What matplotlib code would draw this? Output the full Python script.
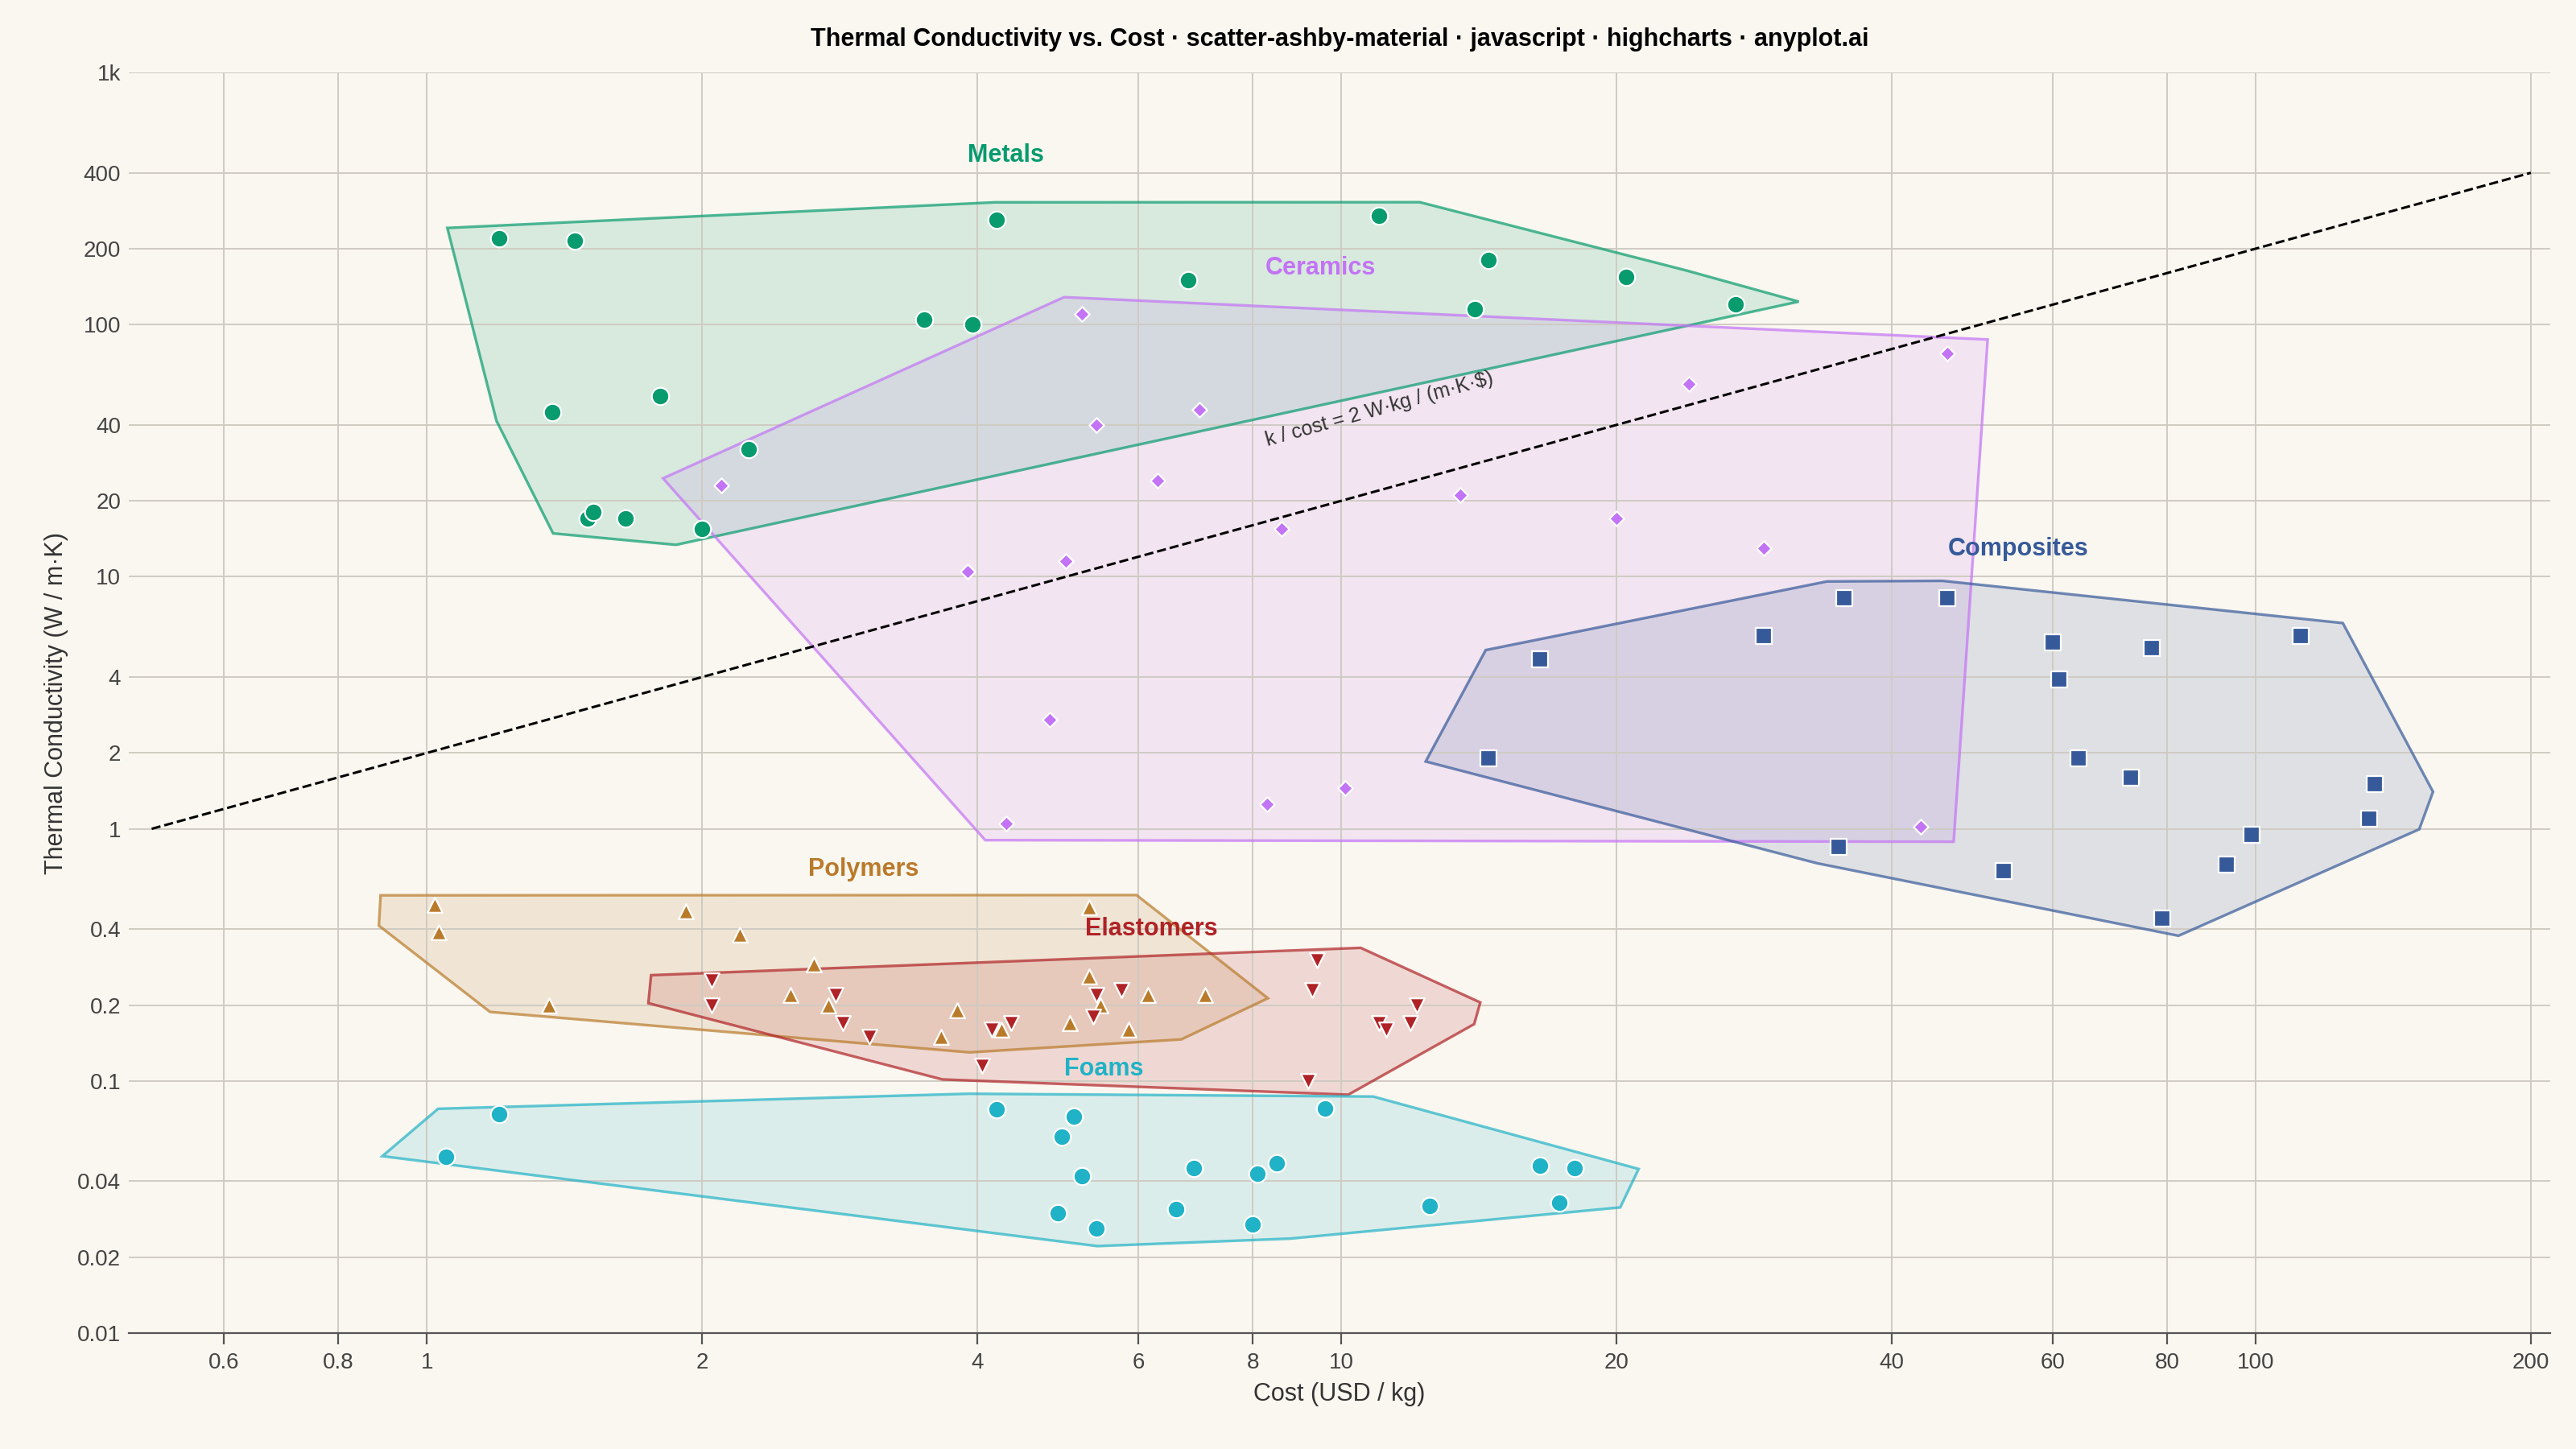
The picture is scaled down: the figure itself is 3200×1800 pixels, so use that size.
import numpy as np
import matplotlib
matplotlib.use("Agg")
import matplotlib.pyplot as plt
from matplotlib.ticker import FixedLocator, FixedFormatter, NullLocator

plt.rcParams['font.family'] = ['Liberation Sans', 'DejaVu Sans']

materials = {
	'Metals': dict(color='#079B6E', marker='o', size=60, label_at=(4.3, 420), pts=[
		(1.2, 220), (1.45, 215), (1.37, 45), (1.8, 52), (1.5, 17), (1.52, 18), (1.65, 17),
		(2.0, 15.5), (2.25, 32), (3.5, 105), (3.95, 100), (4.2, 260), (6.8, 150), (11, 270),
		(14, 115), (14.5, 180), (20.5, 155), (27, 120)]),
	'Ceramics': dict(color='#C373F5', marker='D', size=22, label_at=(9.5, 150), pts=[
		(2.1, 23), (3.9, 10.5), (4.3, 1.05), (4.8, 2.7), (5.0, 11.5), (5.2, 110), (5.4, 40),
		(6.3, 24), (7.0, 46), (8.3, 1.25), (8.6, 15.5), (10.1, 1.45), (13.5, 21), (20, 17),
		(24, 58), (29, 13), (43, 1.02), (46, 77)]),
	'Composites': dict(color='#36599A', marker='s', size=50, label_at=(55, 11.5), pts=[
		(14.5, 1.9), (16.5, 4.7), (29, 5.8), (35, 0.85), (35.5, 8.2), (46, 8.2), (53, 0.68),
		(60, 5.5), (61, 3.9), (64, 1.9), (73, 1.6), (77, 5.2), (79, 0.44), (93, 0.72),
		(99, 0.95), (112, 5.8), (133, 1.1), (135, 1.5)]),
	'Polymers': dict(color='#B97A2A', marker='^', size=45, label_at=(3.0, 0.62), pts=[
		(1.02, 0.5), (1.03, 0.39), (1.36, 0.2), (1.92, 0.47), (2.2, 0.38), (2.5, 0.22),
		(2.65, 0.29), (2.75, 0.2), (3.65, 0.15), (3.8, 0.19), (4.25, 0.16), (5.05, 0.17),
		(5.3, 0.26), (5.3, 0.49), (5.45, 0.2), (5.85, 0.16), (6.15, 0.22), (7.1, 0.22)]),
	'Elastomers': dict(color='#AF2226', marker='v', size=45, label_at=(6.2, 0.36), pts=[
		(2.05, 0.25), (2.05, 0.2), (2.8, 0.22), (2.85, 0.17), (3.05, 0.15), (4.05, 0.115),
		(4.15, 0.16), (4.35, 0.17), (5.35, 0.18), (5.4, 0.22), (5.75, 0.23), (9.2, 0.1),
		(9.3, 0.23), (9.4, 0.3), (11, 0.17), (11.2, 0.16), (11.9, 0.17), (12.1, 0.2)]),
	'Foams': dict(color='#20B2C6', marker='o', size=60, label_at=(5.5, 0.1), pts=[
		(1.05, 0.05), (1.2, 0.074), (4.2, 0.077), (4.95, 0.06), (5.1, 0.072), (4.9, 0.03),
		(5.2, 0.042), (5.4, 0.026), (6.6, 0.031), (6.9, 0.045), (8.0, 0.027), (8.1, 0.043),
		(8.5, 0.047), (9.6, 0.078), (12.5, 0.032), (16.5, 0.046), (17.3, 0.033), (18, 0.045)]),
}

def hull(p):
	p = sorted(set(map(tuple, p)))
	def cross(o, a, b):
		return (a[0]-o[0])*(b[1]-o[1]) - (a[1]-o[1])*(b[0]-o[0])
	lo, up = [], []
	for q in p:
		while len(lo) >= 2 and cross(lo[-2], lo[-1], q) <= 0:
			lo.pop()
		lo.append(q)
	for q in reversed(p):
		while len(up) >= 2 and cross(up[-2], up[-1], q) <= 0:
			up.pop()
		up.append(q)
	return np.array(lo[:-1] + up[:-1])

bg = '#FAF7F0'
fig, ax = plt.subplots(figsize=(16, 9), dpi=200)
fig.patch.set_facecolor(bg)
ax.set_facecolor(bg)
ax.set_xscale('log')
ax.set_yscale('log')

for name, m in materials.items():
	pts = np.log10(np.array(m['pts']))
	h = hull(pts)
	c = h.mean(axis=0)
	d = h - c
	n = np.linalg.norm(d, axis=1, keepdims=True)
	h = h + d / n * 0.07
	ax.fill(10**h[:, 0], 10**h[:, 1], facecolor=m['color'], alpha=0.14, edgecolor='none', zorder=1)
	ax.fill(10**h[:, 0], 10**h[:, 1], facecolor='none', edgecolor=m['color'], alpha=0.7, lw=1.2, zorder=2)
	xs, ys = zip(*m['pts'])
	ax.scatter(xs, ys, s=m['size'], marker=m['marker'], color=m['color'],
		edgecolors='white', linewidths=0.8, zorder=3)
	ax.text(*m['label_at'], name, color=m['color'], fontsize=11, fontweight='bold',
		ha='center', va='bottom', zorder=4)

lx = np.array([0.5, 200])
ax.plot(lx, 2*lx, 'k--', lw=1.1, zorder=2)
ax.text(11, 46, 'k / cost = 2 W·kg / (m·K·$)', fontsize=9, color='#333333',
	rotation=15.5, ha='center', va='center', rotation_mode='anchor')

ax.set_xlim(0.472, 210)
ax.set_ylim(0.01, 1000)
xt = [0.6, 0.8, 1, 2, 4, 6, 8, 10, 20, 40, 60, 80, 100, 200]
yt = [0.01, 0.02, 0.04, 0.1, 0.2, 0.4, 1, 2, 4, 10, 20, 40, 100, 200, 400, 1000]
ax.xaxis.set_major_locator(FixedLocator(xt))
ax.xaxis.set_major_formatter(FixedFormatter([f'{v:g}' for v in xt]))
ax.yaxis.set_major_locator(FixedLocator(yt))
ax.yaxis.set_major_formatter(FixedFormatter([f'{v:g}' if v < 1000 else '1k' for v in yt]))
ax.xaxis.set_minor_locator(NullLocator())
ax.yaxis.set_minor_locator(NullLocator())
ax.grid(True, color='#CFCBC3', lw=0.7, zorder=0)
ax.tick_params(axis='both', labelsize=10, colors='#444444', length=0)
ax.tick_params(axis='x', length=5, color='#555555')
for s in ['top', 'right', 'left']:
	ax.spines[s].set_visible(False)
ax.spines['bottom'].set_color('#555555')
ax.set_xlabel('Cost (USD / kg)', fontsize=11, color='#333333')
ax.set_ylabel('Thermal Conductivity (W / m·K)', fontsize=11, color='#333333')
ax.set_title('Thermal Conductivity vs. Cost · scatter-ashby-material · javascript · highcharts · anyplot.ai',
	fontsize=11, fontweight='bold', pad=12)
fig.subplots_adjust(left=0.05, right=0.99, top=0.95, bottom=0.08)
fig.savefig('out.png', facecolor=bg)
